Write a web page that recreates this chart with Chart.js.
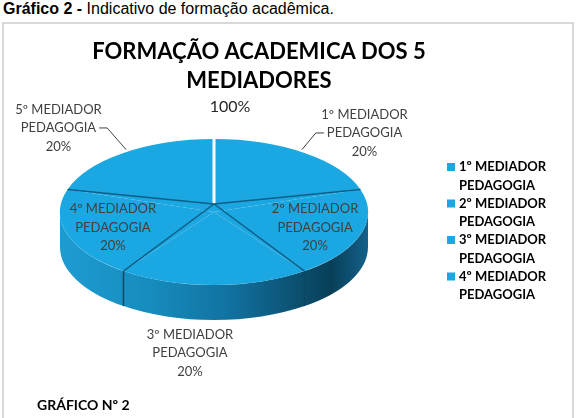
<!DOCTYPE html>
<html>
<head>
<meta charset="utf-8">
<script src="https://cdn.jsdelivr.net/npm/chart.js@4.4.0/dist/chart.umd.min.js"></script>
<style>
    body { margin: 0; background: #fff; width: 581px; height: 418px; overflow: hidden; position: relative; }
    #caption { position: absolute; left: 3px; top: 0px; font-family: 'Liberation Sans', Arial, sans-serif; font-size: 16px; color: #000; white-space: nowrap; }
    #box { position: absolute; left: 2px; top: 22px; width: 572px; height: 400px; border: 2px solid #d9d9d9; box-sizing: border-box; }
    #box canvas { position: absolute; left: 0; top: 0; }
    #note { position: absolute; left: 33px; top: 372px; font: bold 14px Lato, sans-serif; color: #000; }
</style>
</head>
<body>
<div id="caption"><b>Gráfico 2 -</b> Indicativo de formação acadêmica.</div>
<div id="box">
    <canvas id="pie" width="568" height="396"></canvas>
    <div id="note">GRÁFICO Nº 2</div>
</div>
<script>
// chart data
const slice_labels = [
    ["1º MEDIADOR", "PEDAGOGIA"],
    ["2º MEDIADOR", "PEDAGOGIA"],
    ["3º MEDIADOR", "PEDAGOGIA"],
    ["4º MEDIADOR", "PEDAGOGIA"],
    ["5º MEDIADOR", "PEDAGOGIA"]
];
const slice_values = [20, 20, 20, 20, 20];
const title_lines = ["FORMAÇÃO ACADEMICA DOS 5", "MEDIADORES"];
const total_label = "100%";
const legend_count = 4;   // the legend only lists the first four

const top_colour = "#1ba7e1";
const font_family = "Lato, 'Open Sans', sans-serif";

// where the squashed pie sits on the canvas
const pie_pos = { cx: 210, cy: 188, k: 73 / 154, depth: 35, apex: -8 };

// label placement: inside factor, or offset from the rim point
const label_place = [
    { dx: 60, dy: -20, leader: "left" },
    { inside: 0.69 },
    { dx: -24, dy: 33 },
    { inside: 0.69 },
    { dx: -65, dy: -25, leader: "right" }
];

function rimPoint(a, rx, ry) {
    return { x: pie_pos.cx + rx * Math.cos(a), y: pie_pos.cy + ry * Math.sin(a) };
}

const pie3d = {
    id: "pie3d",
    beforeDatasetsDraw(chart) {
        const ctx = chart.ctx;
        const arcs = chart.getDatasetMeta(0).data;
        const rx = arcs[0].outerRadius;
        const ry = rx * pie_pos.k;

        // side wall, front half only
        const grad = ctx.createLinearGradient(pie_pos.cx - rx, 0, pie_pos.cx + rx, 0);
        grad.addColorStop(0, "#1e9cd2");
        grad.addColorStop(0.3, "#168bbd");
        grad.addColorStop(0.55, "#1172a0");
        grad.addColorStop(0.78, "#0b4e6d");
        grad.addColorStop(0.88, "#083f58");
        grad.addColorStop(1, "#14618a");

        ctx.save();
        arcs.forEach(a => {
            const s = Math.max(a.startAngle, 0);
            const e = Math.min(a.endAngle, Math.PI);
            if (e <= s) return;
            ctx.beginPath();
            ctx.ellipse(pie_pos.cx, pie_pos.cy + pie_pos.depth, rx, ry, 0, s, e);
            ctx.ellipse(pie_pos.cx, pie_pos.cy, rx, ry, 0, e, s, true);
            ctx.closePath();
            ctx.fillStyle = grad;
            ctx.fill();
        });
        // slice edges on the wall
        ctx.strokeStyle = "#0a4662";
        ctx.lineWidth = 1.5;
        arcs.forEach(a => {
            const t = a.startAngle;
            if (t > 0 && t < Math.PI) {
                const p = rimPoint(t, rx, ry);
                ctx.beginPath();
                ctx.moveTo(p.x, p.y);
                ctx.lineTo(p.x, p.y + pie_pos.depth);
                ctx.stroke();
            }
        });
        ctx.restore();

        // squash the library's circle into the top face
        ctx.save();
        ctx.translate(pie_pos.cx - arcs[0].x, pie_pos.cy);
        ctx.scale(1, pie_pos.k);
        ctx.translate(0, -arcs[0].y);
    },
    afterDatasetsDraw(chart) {
        const ctx = chart.ctx;
        ctx.restore();

        const arcs = chart.getDatasetMeta(0).data;
        const rx = arcs[0].outerRadius;
        const ry = rx * pie_pos.k;

        // slice edges on the top face (apex a little raised, like the perspective view)
        arcs.forEach((a, i) => {
            const p = rimPoint(a.startAngle, rx, ry);
            ctx.beginPath();
            ctx.moveTo(pie_pos.cx, pie_pos.cy + pie_pos.apex);
            ctx.lineTo(p.x, p.y);
            ctx.strokeStyle = i === 0 ? "#ffffff" : "#0e5f88";
            ctx.lineWidth = i === 0 ? 3 : 1.5;
            ctx.stroke();
        });

        // data labels
        ctx.save();
        ctx.font = "13px " + font_family;
        ctx.fillStyle = "#404040";
        ctx.textAlign = "center";
        ctx.textBaseline = "middle";
        const line_h = 18.5;
        arcs.forEach((a, i) => {
            const mid = (a.startAngle + a.endAngle) / 2;
            const place = label_place[i];
            let cx, cy;
            if (place.inside) {
                cx = pie_pos.cx + rx * place.inside * Math.cos(mid);
                cy = pie_pos.cy + ry * place.inside * Math.sin(mid);
            } else {
                const p = rimPoint(mid, rx, ry);
                const wall = Math.sin(mid) > 0 ? pie_pos.depth : 0;
                cx = p.x + place.dx;
                cy = p.y + wall + place.dy;
            }
            const lines = slice_labels[i].concat([slice_values[i] + "%"]);
            lines.forEach((t, j) => ctx.fillText(t, cx, cy + (j - 1) * line_h));

            if (place.leader) {
                const p = rimPoint(mid, rx * 0.97, ry * 0.97);
                const half = ctx.measureText(lines[1]).width / 2;
                const side = place.leader === "left" ? -1 : 1;
                const end_x = cx + side * (half + 3);
                ctx.beginPath();
                ctx.moveTo(p.x, p.y - 5);
                ctx.lineTo(end_x + side * 8, cy);
                ctx.lineTo(end_x, cy);
                ctx.strokeStyle = "#404040";
                ctx.lineWidth = 1;
                ctx.stroke();
            }
        });

        // total label above the pie
        ctx.font = "16px " + font_family;
        ctx.fillStyle = "#262626";
        ctx.fillText(total_label, pie_pos.cx + 16, pie_pos.cy - ry - 32);
        ctx.restore();

        // legend on the right
        ctx.save();
        ctx.font = "bold 13px " + font_family;
        ctx.textAlign = "left";
        ctx.textBaseline = "middle";
        for (let i = 0; i < legend_count; i++) {
            const y = 143 + i * 36.5;
            ctx.fillStyle = arcs[i].options.backgroundColor;
            ctx.fillRect(443, y - 4, 8, 8);
            ctx.fillStyle = "#000";
            ctx.fillText(slice_labels[i][0], 455, y);
            ctx.fillText(slice_labels[i][1], 455, y + 18.5);
        }
        ctx.restore();
    }
};

const config_pie = {
    type: "pie",
    data: {
        labels: slice_labels,
        datasets: [{
            data: slice_values,
            backgroundColor: top_colour,
            borderWidth: 0,
            radius: 154
        }]
    },
    options: {
        responsive: false,
        animation: false,
        layout: {
            padding: { right: 58 }   // shifts the title centre left
        },
        plugins: {
            legend: { display: false },
            tooltip: { enabled: false },
            title: {
                display: true,
                text: title_lines,
                color: "#000",
                font: { family: font_family, size: 22, weight: "bold", lineHeight: 1.3 },
                padding: { top: 14, bottom: 8 }
            }
        }
    },
    plugins: [pie3d]
};

const pie_chart = new Chart(document.getElementById("pie").getContext("2d"), config_pie);
</script>
</body>
</html>
